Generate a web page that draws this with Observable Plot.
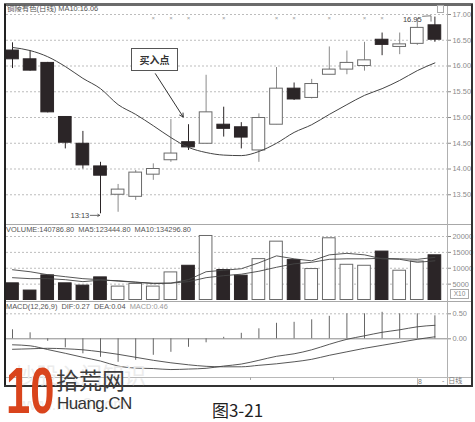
<!DOCTYPE html>
<html><head><meta charset="utf-8">
<script src="https://cdn.jsdelivr.net/npm/d3@7"></script>
<script src="https://cdn.jsdelivr.net/npm/@observablehq/plot@0.6"></script>
<style>
body{margin:0;background:#fff;}
#wrap{position:relative;width:475px;height:422px;overflow:hidden;font-family:"Liberation Sans","Noto Sans CJK SC",sans-serif;}
.abs{position:absolute;white-space:nowrap;}
.panel svg{display:block;overflow:visible;}
.hdr{font-size:7.4px;color:#555;line-height:9px;}
</style>
</head><body>
<div id="wrap">
  <div class="abs panel" id="p1" style="left:0;top:0"></div>
  <div class="abs panel" id="p2" style="left:0;top:224px"></div>
  <div class="abs panel" id="p3" style="left:0;top:302px"></div>

  <!-- frame and separators -->
  <div class="abs" style="left:4px;top:3px;width:469px;height:3px;background:#6b6b6b"></div>
  <div class="abs" style="left:4px;top:4px;width:2px;height:383px;background:#222"></div>
  <div class="abs" style="left:470.5px;top:4px;width:2px;height:383px;background:#333"></div>
  <div class="abs" style="left:4px;top:384.5px;width:468px;height:2px;background:#333"></div>
  <div class="abs" style="left:6px;top:224px;width:465px;height:1px;background:#a8a8a8"></div>
  <div class="abs" style="left:6px;top:301px;width:465px;height:1px;background:#a8a8a8"></div>
  <div class="abs" style="left:446.5px;top:6px;width:1px;height:379px;background:#b0b0b0"></div>
  <div class="abs" style="left:6px;top:376.5px;width:465px;height:1px;background:#b8b8b8"></div>
  <div class="abs" style="left:250px;top:377px;width:1px;height:3px;background:#aaa"></div>
  <div class="abs" style="left:333px;top:377px;width:1px;height:3px;background:#aaa"></div>
  <div class="abs" style="left:416.5px;top:377px;width:1px;height:8px;background:#bbb"></div>

  <div class="abs hdr" style="left:7px;top:4px">铜陵有色(日线) MA10:16.06</div>
  <div class="abs hdr" style="left:6px;top:225px">VOLUME:140786.80&nbsp; MA5:123444.80&nbsp; MA10:134296.80</div>
  <div class="abs hdr" style="left:6px;top:302px">MACD(12,26,9)&nbsp; DIF:0.27&nbsp; DEA:0.04&nbsp; <span style="color:#9a9a9a">MACD:0.46</span></div>
  <div class="abs" style="left:437px;top:5px;width:5px;height:6px;border:1px solid #aaa"></div>
  <div class="abs" style="left:450px;top:289px;width:17px;height:8px;border:1px solid #aaa;font-size:6.5px;line-height:8px;color:#888;text-align:center">X10</div>
  <div class="abs" style="left:418px;top:378px;font-size:7px;color:#777;line-height:8px">8</div>
  <div class="abs" style="left:442px;top:377px;font-size:7px;color:#777;line-height:8px">-&nbsp; 日线</div>

  <div class="abs" style="left:131px;top:48px;width:45px;height:21px;border:1px solid #555;background:#fff;font-family:'Noto Sans CJK SC';font-weight:700;font-size:10px;line-height:21px;text-align:center;color:#333">买入点</div>

  <!-- watermark -->
  <div class="abs" style="left:14px;top:360px;font-family:'Noto Sans CJK SC';font-size:22px;line-height:26px;color:#ececec">炒股入门知识</div>
  <div class="abs" style="left:18px;top:396px;font-size:16px;line-height:18px;color:#ececec">www.hao8.com</div>
  <div class="abs" style="left:6px;top:361px;font-family:'Liberation Sans';font-weight:900;font-size:64px;line-height:60px;color:#d9441c;transform:scaleX(0.68);transform-origin:left top">10</div>
  <div class="abs" style="left:56px;top:364px;font-family:'Noto Sans CJK SC';font-size:23px;line-height:30px;color:#3d3d3d">拾荒网</div>
  <div class="abs" style="left:57px;top:394px;font-family:'Liberation Sans';font-size:17px;line-height:20px;color:#333;letter-spacing:-0.6px">Huang.CN</div>

  <div class="abs" style="left:0;width:475px;top:399px;text-align:center;font-family:'Noto Sans CJK SC';font-size:17px;line-height:22px;color:#222">图3-21</div>
</div>
<script>
// ---- data ----
const days  = [0,1,2,3,4,5,6,7,8,9,10,11,12,13,14,15,16,17,18,19,20,21,22,23,24];
const open  = [16.30,16.13,16.06,15.01,14.49,14.05,13.50,13.46,13.89,14.17,14.52,14.49,14.86,14.81,14.36,14.86,15.56,15.38,15.83,15.93,16.00,16.51,16.37,16.43,16.79];
const close = [16.13,15.91,15.10,14.51,14.07,13.87,13.60,13.93,14.00,14.30,14.42,15.10,14.78,14.61,14.99,15.56,15.35,15.65,15.93,16.06,16.11,16.41,16.42,16.74,16.51];
const high  = [16.45,16.30,16.07,15.01,14.73,14.13,13.70,13.97,14.10,14.96,14.86,15.82,15.20,14.90,15.07,15.97,15.67,15.74,16.37,16.29,16.46,16.64,16.64,16.92,16.95];
const low   = [15.95,15.90,15.09,14.39,14.00,13.13,13.16,13.39,13.78,14.13,14.36,14.49,14.62,14.39,14.13,14.86,15.33,15.36,15.83,15.83,15.90,16.20,16.22,16.40,16.46];
const ma10  = [16.36,16.30,16.18,15.99,15.76,15.56,15.25,15.06,14.84,14.61,14.42,14.32,14.27,14.26,14.34,14.50,14.71,14.86,15.06,15.25,15.43,15.56,15.72,15.91,16.06];
const volume   = [5250,2970,7750,5250,4530,7125,4220,5060,4220,8690,10780,20160,9440,7660,12875,18375,12560,9750,19440,11090,10780,15250,9220,12125,14079];
const volMa5   = [7030,6720,6720,6400,5780,6250,6090,5620,5160,5310,6400,8900,9375,9840,11720,13900,12970,12340,14220,14690,14220,12970,12810,11875,12344];
const volMa10  = [9530,8900,7970,7340,6720,6400,5940,5620,5310,5310,5780,7030,7660,8125,9060,10310,11400,11875,12810,12970,12970,13125,12970,12810,13430];
const macdHist = [0.18,0.12,-0.05,-0.18,-0.30,-0.37,-0.47,-0.43,-0.33,-0.27,-0.17,-0.08,0.03,0.11,0.20,0.31,0.33,0.38,0.45,0.50,0.50,0.53,0.50,0.50,0.46];
const dif      = [-0.12,-0.14,-0.215,-0.29,-0.37,-0.445,-0.545,-0.585,-0.595,-0.615,-0.605,-0.59,-0.545,-0.505,-0.43,-0.35,-0.30,-0.22,-0.11,-0.01,0.06,0.13,0.18,0.24,0.27];
const dea      = [-0.21,-0.20,-0.19,-0.20,-0.22,-0.26,-0.31,-0.37,-0.43,-0.48,-0.52,-0.55,-0.56,-0.56,-0.53,-0.50,-0.46,-0.41,-0.33,-0.26,-0.19,-0.13,-0.07,-0.01,0.04];
const flagDays   = [8,9,10,12,15,16,18,20,21];
const priceTicks = [13.5,14,14.5,15,15.5,16,16.5,17];
const volTicks   = [5000,10000,15000,20000];
const macdTicks  = [0,0.5];
// annotations (data units)
const buyArrow  = [{x1:8.12, y1:15.85, x2:9.70, y2:15.01}];
const lowNote   = [{x:4.42, y:13.10, t:"13:13", x2:4.95}];
const highNote  = [{x:23.25, y:16.90, t:"16.95"}];
const highHook  = [{x:23.3,y:16.965},{x:23.78,y:16.975},{x:23.78,y:16.87}];

// ---- build ----
const candles = days.map((i,k)=>({i, open:open[k], close:close[k], high:high[k], low:low[k], ma10:ma10[k], vol:volume[k], v5:volMa5[k], v10:volMa10[k], h:macdHist[k], dif:dif[k], dea:dea[k]}));
const up = candles.filter(d=>d.close>=d.open);
const dn = candles.filter(d=>d.close<d.open);
const HW = 0.36;
const X = {type:"linear", domain:[0,24], range:[12,434.4], axis:null};
const common = {width:475, marginLeft:6, marginRight:28, x:X,
  style:{background:"transparent", fontFamily:"Liberation Sans, sans-serif", fontSize:"7.4px", overflow:"visible"}};
const dark = "#2b2527";
const grid = {stroke:"#bdbdbd", strokeOpacity:1, strokeDasharray:"2,2"};
const axisOpts = {anchor:"right", tickSize:3, tickPadding:2, color:"#8a8a8a", label:null};

const p1 = Plot.plot({...common, height:224, marginTop:14, marginBottom:4,
  y:{domain:[13,17]},
  marks:[
    Plot.gridY(priceTicks, grid),
    Plot.ruleX(up, {x:"i", y1:"low", y2:"high", stroke:"#8a8a8a"}),
    Plot.ruleX(dn, {x:"i", y1:"low", y2:"high", stroke:dark}),
    Plot.rect(up, {x1:d=>d.i-HW, x2:d=>d.i+HW, y1:"open", y2:"close", fill:"#fff", stroke:"#6a6a6a"}),
    Plot.rect(dn, {x1:d=>d.i-HW, x2:d=>d.i+HW, y1:"open", y2:"close", fill:dark, stroke:dark}),
    Plot.line(candles, {x:"i", y:"ma10", stroke:"#444", strokeWidth:1, curve:"monotone-x"}),
    Plot.text(flagDays, {x:d=>d, frameAnchor:"top", text:()=>"×", fontSize:6, fill:"#9a9a9a", dy:1}),
    Plot.arrow(buyArrow, {x1:"x1", y1:"y1", x2:"x2", y2:"y2", stroke:"#333", strokeWidth:1, headLength:6}),
    Plot.text(lowNote, {x:"x", y:"y", text:"t", textAnchor:"end", fill:"#444", fontSize:7.5, dx:-1}),
    Plot.arrow(lowNote, {x1:"x", y1:"y", x2:"x2", y2:"y", stroke:"#444", strokeWidth:0.8, headLength:4}),
    Plot.text(highNote, {x:"x", y:"y", text:"t", textAnchor:"end", fill:"#444", fontSize:7.5}),
    Plot.line(highHook, {x:"x", y:"y", stroke:"#555", strokeWidth:0.8}),
    Plot.axisY(priceTicks, {...axisOpts, tickFormat:d=>d.toFixed(2)})
  ]});
document.getElementById("p1").append(p1);

const p2 = Plot.plot({...common, height:78, marginTop:12, marginBottom:2.5,
  y:{domain:[0,20000]},
  marks:[
    Plot.gridY(volTicks, grid),
    Plot.rect(up, {x1:d=>d.i-HW, x2:d=>d.i+HW, y1:0, y2:"vol", fill:"#fff", stroke:"#6a6a6a"}),
    Plot.rect(dn, {x1:d=>d.i-HW, x2:d=>d.i+HW, y1:0, y2:"vol", fill:dark, stroke:dark}),
    Plot.line(candles, {x:"i", y:"v10", stroke:"#444", strokeWidth:0.9}),
    Plot.line(candles, {x:"i", y:"v5", stroke:"#444", strokeWidth:0.9}),
    Plot.axisY(volTicks, {...axisOpts, tickFormat:d3.format("d")})
  ]});
document.getElementById("p2").append(p2);

const p3 = Plot.plot({...common, height:75, marginTop:11.3, marginBottom:3.7,
  y:{domain:[-0.7,0.5]},
  marks:[
    Plot.gridY([0.5], grid),
    Plot.ruleY([0], {stroke:"#8a8a8a"}),
    Plot.ruleX(candles, {x:"i", y1:0, y2:"h", stroke:"#666", strokeWidth:1}),
    Plot.line(candles, {x:"i", y:"dif", stroke:"#444", strokeWidth:0.9, curve:"monotone-x"}),
    Plot.line(candles, {x:"i", y:"dea", stroke:"#444", strokeWidth:0.9, curve:"monotone-x"}),
    Plot.axisY(macdTicks, {...axisOpts, tickFormat:d=>d.toFixed(2)})
  ]});
document.getElementById("p3").append(p3);
</script>
</body></html>
